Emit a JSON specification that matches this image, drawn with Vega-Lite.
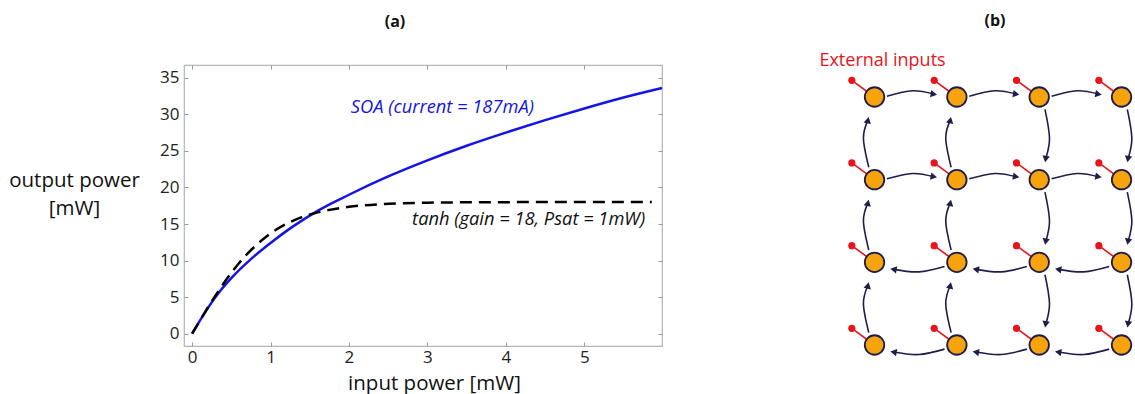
{
  "$schema": "https://vega.github.io/schema/vega-lite/v6.json",
  "padding": {"left": 8, "top": 12, "right": 0, "bottom": 0},
  "background": "white",
  "config": {
    "font": "Open Sans",
    "view": {"stroke": "#b4b4b4", "strokeWidth": 1.2},
    "axis": {"grid": false, "domain": false, "tickColor": "#9a9a9a", "tickWidth": 1, "labelColor": "#222222", "labelFont": "Open Sans", "titleFont": "Open Sans", "titleColor": "#111111", "titleFontWeight": "normal"},
    "title": {"font": "Open Sans", "color": "#111111"}
  },
  "datasets": {
    "soa": [
      {"x": 0, "y": 0}, {"x": 0.1, "y": 1.8}, {"x": 0.2, "y": 3.5}, {"x": 0.37, "y": 6.0},
      {"x": 0.5, "y": 7.6}, {"x": 0.75, "y": 10.2}, {"x": 1.0, "y": 12.4}, {"x": 1.25, "y": 14.4},
      {"x": 1.6, "y": 16.8}, {"x": 2.0, "y": 19.0}, {"x": 2.5, "y": 21.5}, {"x": 3.0, "y": 23.7},
      {"x": 3.5, "y": 25.7}, {"x": 4.0, "y": 27.5}, {"x": 4.5, "y": 29.2}, {"x": 5.0, "y": 30.8},
      {"x": 5.5, "y": 32.3}, {"x": 5.99, "y": 33.6}
    ],
    "tanh": [
      {"x": 0, "y": 0}, {"x": 0.1, "y": 1.79}, {"x": 0.2, "y": 3.55}, {"x": 0.3, "y": 5.25},
      {"x": 0.4, "y": 6.84}, {"x": 0.5, "y": 8.32}, {"x": 0.6, "y": 9.67}, {"x": 0.7, "y": 10.87},
      {"x": 0.8, "y": 11.94}, {"x": 0.9, "y": 12.87}, {"x": 1.0, "y": 13.71}, {"x": 1.2, "y": 15.01},
      {"x": 1.4, "y": 15.94}, {"x": 1.6, "y": 16.59}, {"x": 1.8, "y": 17.02}, {"x": 2.0, "y": 17.35},
      {"x": 2.5, "y": 17.76}, {"x": 3.0, "y": 17.91}, {"x": 3.5, "y": 17.97}, {"x": 4.0, "y": 17.99},
      {"x": 5.0, "y": 18.0}, {"x": 5.86, "y": 18.0}
    ],
    "notes": [
      {"x": 3.19, "y": 30.9, "series": "SOA", "label": "SOA (current = 187mA)"},
      {"x": 4.29, "y": 15.5, "series": "tanh", "label": "tanh (gain = 18, Psat = 1mW)"}
    ],
    "nodes": [
      {"x": 0, "y": 0}, {"x": 1, "y": 0}, {"x": 2, "y": 0}, {"x": 3, "y": 0},
      {"x": 0, "y": 1}, {"x": 1, "y": 1}, {"x": 2, "y": 1}, {"x": 3, "y": 1},
      {"x": 0, "y": 2}, {"x": 1, "y": 2}, {"x": 2, "y": 2}, {"x": 3, "y": 2},
      {"x": 0, "y": 3}, {"x": 1, "y": 3}, {"x": 2, "y": 3}, {"x": 3, "y": 3}
    ],
    "ext": [{"x": 0.097, "y": -0.435, "label": "External inputs"}],
    "arcs": [
      {"a": "R00", "p": 0, "d": "right", "x": 0.15, "y": -0.01}, {"a": "R00", "p": 1, "d": "right", "x": 0.46, "y": -0.075}, {"a": "R00", "p": 2, "d": "right", "x": 0.72, "y": -0.035},
      {"a": "R10", "p": 0, "d": "right", "x": 1.15, "y": -0.01}, {"a": "R10", "p": 1, "d": "right", "x": 1.46, "y": -0.075}, {"a": "R10", "p": 2, "d": "right", "x": 1.72, "y": -0.035},
      {"a": "R20", "p": 0, "d": "right", "x": 2.15, "y": -0.01}, {"a": "R20", "p": 1, "d": "right", "x": 2.46, "y": -0.075}, {"a": "R20", "p": 2, "d": "right", "x": 2.72, "y": -0.035},
      {"a": "R01", "p": 0, "d": "right", "x": 0.15, "y": 0.99}, {"a": "R01", "p": 1, "d": "right", "x": 0.46, "y": 0.925}, {"a": "R01", "p": 2, "d": "right", "x": 0.72, "y": 0.965},
      {"a": "R11", "p": 0, "d": "right", "x": 1.15, "y": 0.99}, {"a": "R11", "p": 1, "d": "right", "x": 1.46, "y": 0.925}, {"a": "R11", "p": 2, "d": "right", "x": 1.72, "y": 0.965},
      {"a": "R21", "p": 0, "d": "right", "x": 2.15, "y": 0.99}, {"a": "R21", "p": 1, "d": "right", "x": 2.46, "y": 0.925}, {"a": "R21", "p": 2, "d": "right", "x": 2.72, "y": 0.965},
      {"a": "L32", "p": 0, "d": "left", "x": 2.85, "y": 2.05}, {"a": "L32", "p": 1, "d": "left", "x": 2.54, "y": 2.115}, {"a": "L32", "p": 2, "d": "left", "x": 2.23, "y": 2.085},
      {"a": "L22", "p": 0, "d": "left", "x": 1.85, "y": 2.05}, {"a": "L22", "p": 1, "d": "left", "x": 1.54, "y": 2.115}, {"a": "L22", "p": 2, "d": "left", "x": 1.23, "y": 2.085},
      {"a": "L12", "p": 0, "d": "left", "x": 0.85, "y": 2.05}, {"a": "L12", "p": 1, "d": "left", "x": 0.54, "y": 2.115}, {"a": "L12", "p": 2, "d": "left", "x": 0.23, "y": 2.085},
      {"a": "L33", "p": 0, "d": "left", "x": 2.85, "y": 3.05}, {"a": "L33", "p": 1, "d": "left", "x": 2.54, "y": 3.115}, {"a": "L33", "p": 2, "d": "left", "x": 2.23, "y": 3.085},
      {"a": "L23", "p": 0, "d": "left", "x": 1.85, "y": 3.05}, {"a": "L23", "p": 1, "d": "left", "x": 1.54, "y": 3.115}, {"a": "L23", "p": 2, "d": "left", "x": 1.23, "y": 3.085},
      {"a": "L13", "p": 0, "d": "left", "x": 0.85, "y": 3.05}, {"a": "L13", "p": 1, "d": "left", "x": 0.54, "y": 3.115}, {"a": "L13", "p": 2, "d": "left", "x": 0.23, "y": 3.085},
      {"a": "U01", "p": 0, "d": "up", "x": -0.07, "y": 0.85}, {"a": "U01", "p": 1, "d": "up", "x": -0.135, "y": 0.5}, {"a": "U01", "p": 2, "d": "up", "x": -0.08, "y": 0.28},
      {"a": "U02", "p": 0, "d": "up", "x": -0.07, "y": 1.85}, {"a": "U02", "p": 1, "d": "up", "x": -0.135, "y": 1.5}, {"a": "U02", "p": 2, "d": "up", "x": -0.08, "y": 1.28},
      {"a": "U03", "p": 0, "d": "up", "x": -0.07, "y": 2.85}, {"a": "U03", "p": 1, "d": "up", "x": -0.135, "y": 2.5}, {"a": "U03", "p": 2, "d": "up", "x": -0.08, "y": 2.28},
      {"a": "U11", "p": 0, "d": "up", "x": 0.93, "y": 0.85}, {"a": "U11", "p": 1, "d": "up", "x": 0.865, "y": 0.5}, {"a": "U11", "p": 2, "d": "up", "x": 0.92, "y": 0.28},
      {"a": "U12", "p": 0, "d": "up", "x": 0.93, "y": 1.85}, {"a": "U12", "p": 1, "d": "up", "x": 0.865, "y": 1.5}, {"a": "U12", "p": 2, "d": "up", "x": 0.92, "y": 1.28},
      {"a": "U13", "p": 0, "d": "up", "x": 0.93, "y": 2.85}, {"a": "U13", "p": 1, "d": "up", "x": 0.865, "y": 2.5}, {"a": "U13", "p": 2, "d": "up", "x": 0.92, "y": 2.28},
      {"a": "D20", "p": 0, "d": "down", "x": 2.07, "y": 0.15}, {"a": "D20", "p": 1, "d": "down", "x": 2.125, "y": 0.5}, {"a": "D20", "p": 2, "d": "down", "x": 2.078, "y": 0.75},
      {"a": "D21", "p": 0, "d": "down", "x": 2.07, "y": 1.15}, {"a": "D21", "p": 1, "d": "down", "x": 2.125, "y": 1.5}, {"a": "D21", "p": 2, "d": "down", "x": 2.078, "y": 1.75},
      {"a": "D22", "p": 0, "d": "down", "x": 2.07, "y": 2.15}, {"a": "D22", "p": 1, "d": "down", "x": 2.125, "y": 2.5}, {"a": "D22", "p": 2, "d": "down", "x": 2.078, "y": 2.75},
      {"a": "D30", "p": 0, "d": "down", "x": 3.07, "y": 0.15}, {"a": "D30", "p": 1, "d": "down", "x": 3.125, "y": 0.5}, {"a": "D30", "p": 2, "d": "down", "x": 3.078, "y": 0.75},
      {"a": "D31", "p": 0, "d": "down", "x": 3.07, "y": 1.15}, {"a": "D31", "p": 1, "d": "down", "x": 3.125, "y": 1.5}, {"a": "D31", "p": 2, "d": "down", "x": 3.078, "y": 1.75},
      {"a": "D32", "p": 0, "d": "down", "x": 3.07, "y": 2.15}, {"a": "D32", "p": 1, "d": "down", "x": 3.125, "y": 2.5}, {"a": "D32", "p": 2, "d": "down", "x": 3.078, "y": 2.75}
    ]
  },
  "hconcat": [
    {
      "width": 478,
      "height": 281,
      "title": {"text": "(a)", "fontSize": 16, "fontWeight": "bold", "anchor": "middle", "frame": "group", "dx": -28, "offset": 35},
      "layer": [
        {
          "data": {"name": "soa"},
          "mark": {"type": "line", "color": "#1414e6", "strokeWidth": 2.5, "interpolate": "monotone"},
          "encoding": {
            "x": {"field": "x", "type": "quantitative", "scale": {"domain": [-0.103, 5.99], "nice": false, "zero": false},
              "axis": {"orient": "bottom", "values": [0, 1, 2, 3, 4, 5], "tickSize": -4, "labelPadding": 7, "labelFontSize": 17,
                "title": "input power [mW]", "titleFontSize": 20.5, "titleX": 250, "titleY": 37, "titleBaseline": "middle", "titleAlign": "center"}},
            "y": {"field": "y", "type": "quantitative", "scale": {"domain": [-1.68, 36.74], "nice": false, "zero": false},
              "axis": {"orient": "left", "values": [0, 5, 10, 15, 20, 25, 30, 35], "tickSize": -4, "labelPadding": 9, "labelFontSize": 17,
                "title": ["output power", "[mW]"], "titleAngle": 0, "titleAlign": "center", "titleBaseline": "middle",
                "titleX": -110, "titleY": 115, "titleFontSize": 20.5, "titleLineHeight": 28}}
          }
        },
        {
          "data": {"name": "tanh"},
          "mark": {"type": "line", "color": "#000000", "strokeWidth": 2.5, "strokeDash": [12, 7], "interpolate": "monotone"},
          "encoding": {
            "x": {"field": "x", "type": "quantitative", "scale": {"domain": [-0.103, 5.99], "nice": false, "zero": false},
              "axis": {"orient": "top", "values": [0, 1, 2, 3, 4, 5], "tickSize": -4, "labels": false, "title": null}},
            "y": {"field": "y", "type": "quantitative", "scale": {"domain": [-1.68, 36.74], "nice": false, "zero": false},
              "axis": {"orient": "right", "values": [0, 5, 10, 15, 20, 25, 30, 35], "tickSize": -4, "labels": false, "title": null}}
          }
        },
        {
          "data": {"name": "notes"},
          "mark": {"type": "text", "fontStyle": "italic", "fontSize": 18.3, "align": "center", "baseline": "middle"},
          "encoding": {
            "x": {"field": "x", "type": "quantitative", "scale": {"domain": [-0.103, 5.99], "nice": false, "zero": false}, "axis": null},
            "y": {"field": "y", "type": "quantitative", "scale": {"domain": [-1.68, 36.74], "nice": false, "zero": false}, "axis": null},
            "text": {"field": "label"},
            "color": {"field": "series", "type": "nominal", "scale": {"domain": ["SOA", "tanh"], "range": ["#1414e6", "#111111"]}, "legend": null}
          }
        }
      ],
      "resolve": {"axis": {"x": "independent", "y": "independent"}}
    },
    {
      "width": 341.7,
      "height": 281,
      "view": {"stroke": null},
      "title": {"text": "(b)", "fontSize": 16, "fontWeight": "bold", "anchor": "middle", "frame": "group", "dx": 32, "offset": 23},
      "encoding": {
        "x": {"field": "x", "type": "quantitative", "scale": {"domain": [-1, 3.15], "nice": false, "zero": false}, "axis": null},
        "y": {"field": "y", "type": "quantitative", "scale": {"domain": [-0.387, 3.012], "nice": false, "zero": false, "reverse": true}, "axis": null}
      },
      "layer": [
        {
          "data": {"name": "nodes"},
          "mark": {"type": "rule", "color": "#e8141c", "strokeWidth": 1.6, "x2Offset": -22.7, "y2Offset": -16.7},
          "encoding": {"x2": {"field": "x"}, "y2": {"field": "y"}}
        },
        {
          "data": {"name": "nodes"},
          "mark": {"type": "point", "shape": "circle", "filled": true, "opacity": 1, "color": "#e8141c", "size": 52, "xOffset": -22.7, "yOffset": -16.7}
        },
        {
          "data": {"name": "arcs"},
          "mark": {"type": "line", "color": "#1f1d4a", "strokeWidth": 1.6, "interpolate": "cardinal"},
          "encoding": {"detail": {"field": "a"}, "order": {"field": "p", "type": "quantitative"}}
        },
        {
          "data": {"name": "arcs"},
          "transform": [{"filter": "datum.p == 2 && datum.d == 'right'"}],
          "mark": {"type": "point", "shape": "triangle-up", "angle": 100, "filled": true, "opacity": 1, "color": "#1f1d4a", "size": 55}
        },
        {
          "data": {"name": "arcs"},
          "transform": [{"filter": "datum.p == 2 && datum.d == 'left'"}],
          "mark": {"type": "point", "shape": "triangle-up", "angle": 280, "filled": true, "opacity": 1, "color": "#1f1d4a", "size": 55}
        },
        {
          "data": {"name": "arcs"},
          "transform": [{"filter": "datum.p == 2 && datum.d == 'up'"}],
          "mark": {"type": "point", "shape": "triangle-up", "angle": 12, "filled": true, "opacity": 1, "color": "#1f1d4a", "size": 55}
        },
        {
          "data": {"name": "arcs"},
          "transform": [{"filter": "datum.p == 2 && datum.d == 'down'"}],
          "mark": {"type": "point", "shape": "triangle-up", "angle": 190, "filled": true, "opacity": 1, "color": "#1f1d4a", "size": 55}
        },
        {
          "data": {"name": "nodes"},
          "mark": {"type": "point", "shape": "circle", "filled": true, "opacity": 1, "fill": "#f6a30c", "stroke": "#1f1d4a", "strokeWidth": 1.8, "size": 380}
        },
        {
          "data": {"name": "ext"},
          "mark": {"type": "text", "color": "#e8141c", "fontSize": 18, "align": "center", "baseline": "middle"},
          "encoding": {"text": {"field": "label"}}
        }
      ]
    }
  ],
  "spacing": 130.2,
  "bounds": "flush"
}
